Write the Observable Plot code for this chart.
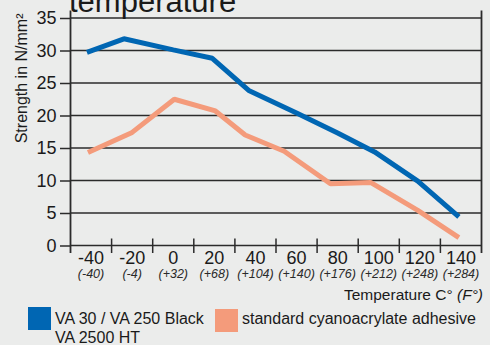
<!DOCTYPE html>
<html>
<head>
<meta charset="utf-8">
<script src="https://cdn.jsdelivr.net/npm/d3@7"></script>
<script src="https://cdn.jsdelivr.net/npm/@observablehq/plot@0.6"></script>
<style>
  html, body { margin: 0; padding: 0; background: #ebeceb; overflow: hidden; }
  #wrap { position: relative; width: 490px; height: 345px; font-family: "Liberation Sans", Arial, sans-serif; color: #1a1a1a; }
  #title { position: absolute; left: 69px; top: -14px; font-size: 31px; line-height: 31px; white-space: nowrap; }
  #xtitle { position: absolute; right: 7px; top: 287px; font-size: 15.5px; line-height: 15.5px; white-space: nowrap; }
  .sw { position: absolute; width: 23px; height: 23px; }
  .lt { position: absolute; font-size: 16px; line-height: 19px; white-space: nowrap; }
</style>
</head>
<body>
<div id="wrap">
  <div id="chart"></div>
  <div id="title"></div>
  <div id="xtitle"></div>
  <div id="legend"></div>
</div>
<script>
// ---- data ----
const titleText = "temperature";
const yLabel = "Strength in N/mm²";
const xTitleMain = "Temperature C° ";
const xTitleItalic = "(F°)";
const celsius = [-40, -20, 0, 20, 40, 60, 80, 100, 120, 140];
const fahrenheit = ["(-40)", "(-4)", "(+32)", "(+68)", "(+104)", "(+140)", "(+176)", "(+212)", "(+248)", "(+284)"];
const tickEdges = [-30, -10, 10, 30, 50, 70, 90, 110, 130];
const xDomain = [-50, 150];
const yTicks = [0, 5, 10, 15, 20, 25, 30, 35];
const seriesNames = ["VA 30 / VA 250 Black\nVA 2500 HT", "standard cyanoacrylate adhesive"];
const seriesColors = ["#0066b3", "#f49b7b"];
const blueTemps = [-42, -24, 0, 19, 37, 60, 80, 98, 119, 139];
const blueValues = [29.7, 31.8, 30.1, 28.8, 23.8, 20.4, 17.3, 14.4, 9.9, 4.4];
const orangeTemps = [-41.5, -20, 0.5, 20.5, 35, 54, 76.5, 96, 119, 139];
const orangeValues = [14.3, 17.4, 22.5, 20.7, 17.0, 14.5, 9.5, 9.7, 5.4, 1.2];

const blue = blueTemps.map((t, i) => ({t, v: blueValues[i]}));
const orange = orangeTemps.map((t, i) => ({t, v: orangeValues[i]}));

const W = 490, H = 305, mt = 17.5, mb = 60, ml = 70, mr = 9;
const frameH = H - mt - mb;
const ink = "#1a1a1a", rule = "#2b2b2b";

const chart = Plot.plot({
  width: W, height: H,
  marginTop: mt, marginBottom: mb, marginLeft: ml, marginRight: mr,
  style: {background: "transparent", fontFamily: "'Liberation Sans', Arial, sans-serif", color: ink, overflow: "visible"},
  x: {domain: xDomain, axis: null},
  y: {domain: [0, 35], axis: null},
  marks: [
    Plot.ruleY(yTicks, {stroke: rule, strokeWidth: 1.5}),
    Plot.ruleX([xDomain[0], xDomain[1]], {stroke: rule, strokeWidth: 1.8, insetTop: -7, insetBottom: -8}),
    Plot.ruleX(tickEdges, {stroke: rule, strokeWidth: 1.5, insetTop: frameH - 6.5, insetBottom: -8}),
    Plot.axisY(yTicks, {anchor: "left", tickSize: 10, tickPadding: 4, fontSize: 18, stroke: rule, fill: ink, strokeWidth: 1.5, dy: 0.5, label: null, tickFormat: d => `${d}`}),
    Plot.axisX(celsius, {anchor: "bottom", tickSize: 0, tickPadding: 5.5, fontSize: 18, fill: ink, label: null, tickFormat: d => `${d}`}),
    Plot.axisX(celsius, {anchor: "bottom", tickSize: 0, tickPadding: 24, fontSize: 12.5, fontStyle: "italic", fill: "#2a2a2a", label: null, tickFormat: d => fahrenheit[celsius.indexOf(d)]}),
    Plot.line(orange, {x: "t", y: "v", stroke: seriesColors[1], strokeWidth: 5, strokeLinecap: "butt", strokeLinejoin: "miter"}),
    Plot.line(blue, {x: "t", y: "v", stroke: seriesColors[0], strokeWidth: 5, strokeLinecap: "butt", strokeLinejoin: "miter"}),
    Plot.text([yLabel], {frameAnchor: "top-left", rotate: -90, textAnchor: "end", lineAnchor: "middle", dx: -48.3, dy: -4.5, fontSize: 16, fill: ink})
  ]
});
document.getElementById("chart").appendChild(chart);

document.getElementById("title").textContent = titleText;
const xt = document.getElementById("xtitle");
xt.appendChild(document.createTextNode(xTitleMain));
const it = document.createElement("i");
it.textContent = xTitleItalic;
xt.appendChild(it);

const legend = document.getElementById("legend");
const legendPos = [{sx: 28, sy: 307, tx: 55}, {sx: 215, sy: 309, tx: 242}];
seriesNames.forEach((name, i) => {
  const sw = document.createElement("div");
  sw.className = "sw";
  sw.style.left = legendPos[i].sx + "px";
  sw.style.top = legendPos[i].sy + "px";
  sw.style.background = seriesColors[i];
  legend.appendChild(sw);
  const lt = document.createElement("div");
  lt.className = "lt";
  lt.style.left = legendPos[i].tx + "px";
  lt.style.top = "309px";
  lt.innerHTML = name.split("\n").join("<br>");
  legend.appendChild(lt);
});
</script>
</body>
</html>
